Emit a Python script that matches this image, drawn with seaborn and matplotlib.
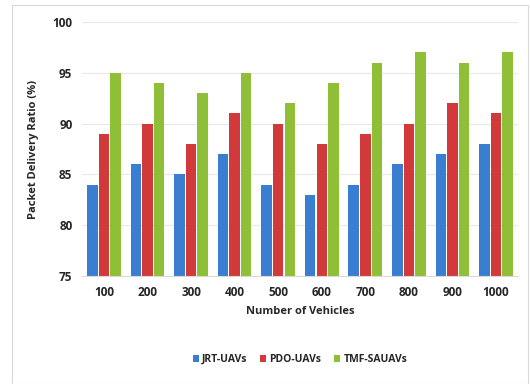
import pandas as pd
import matplotlib.pyplot as plt
import seaborn as sns
from matplotlib.patches import Rectangle

vehicles = ['100', '200', '300', '400', '500', '600', '700', '800', '900', '1000']
jrt_uavs = [84, 86, 85, 87, 84, 83, 84, 86, 87, 88]
pdo_uavs = [89, 90, 88, 91, 90, 88, 89, 90, 92, 91]
tmf_sauavs = [95, 94, 93, 95, 92, 94, 96, 97, 96, 97]
series_names = ['JRT-UAVs', 'PDO-UAVs', 'TMF-SAUAVs']
colors = ['#3a7ed2', '#d2393a', '#8fbf37']

df = pd.DataFrame({'vehicles': vehicles * 3,
                   'pdr': jrt_uavs + pdo_uavs + tmf_sauavs,
                   'method': [n for n in series_names for _ in vehicles]})

sns.set_style('white')
plt.rcParams['font.family'] = ['Open Sans', 'DejaVu Sans']

fig = plt.figure(figsize=(5.3, 3.84), dpi=100)
ax = fig.add_axes([0.155, 0.281, 0.822, 0.662])

sns.barplot(data=df, x='vehicles', y='pdr', hue='method', palette=colors,
            width=0.8, gap=0.1, saturation=1, linewidth=0, ax=ax)

ax.set_ylim(75, 100)
ax.set_yticks([75, 80, 85, 90, 95, 100])
ax.yaxis.grid(True, color='#e8e8e8', linewidth=0.8)
ax.set_axisbelow(True)
for s in ['top', 'right', 'left']:
    ax.spines[s].set_visible(False)
ax.spines['bottom'].set_color('#d9d9d9')
ax.tick_params(axis='both', length=0, labelsize=8.5, pad=7)
for lbl in ax.get_xticklabels() + ax.get_yticklabels():
    lbl.set_fontweight('bold')
    lbl.set_color('#262626')

ax.set_xlabel('Number of Vehicles', fontsize=8, fontweight='bold', color='#262626', labelpad=5)
ax.set_ylabel('Packet Delivery Ratio (%)', fontsize=8, fontweight='bold', color='#262626', labelpad=10)

ax.legend(loc='upper center', bbox_to_anchor=(0.5, -0.27), ncol=3, frameon=False,
          handlelength=0.6, handleheight=0.6, columnspacing=1.2,
          handletextpad=0.3, prop={'weight': 'bold', 'size': 7.5})

fig.patches.append(Rectangle((12 / 530, 0.0), 516 / 530, 1 - 5 / 384,
                             transform=fig.transFigure, fill=False,
                             edgecolor='#d9d9d9', linewidth=0.8))

fig.savefig('out.png', dpi=100)
